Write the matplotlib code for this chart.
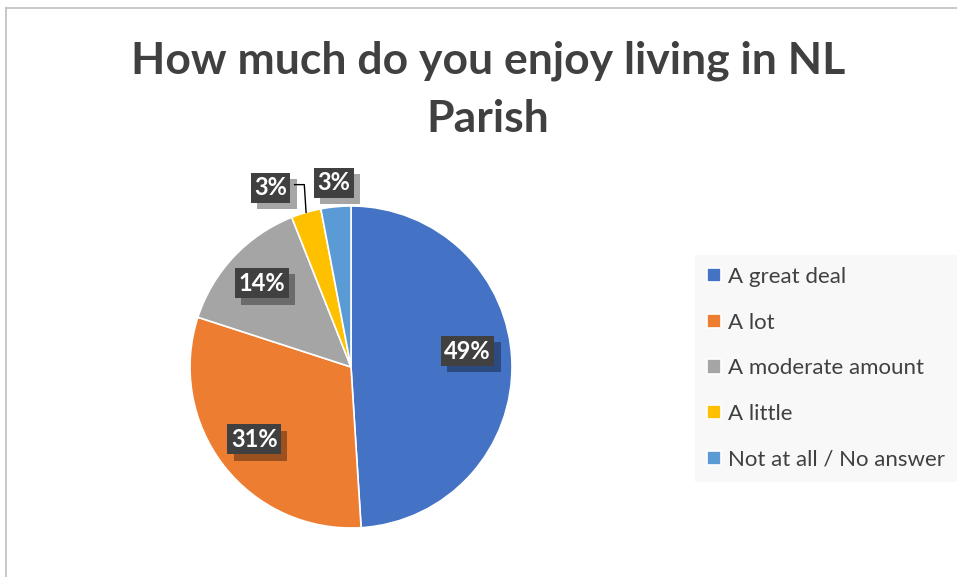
#Pie chart: How much do you enjoy living in NL Parish

import numpy as np
import matplotlib.pyplot as plt
from matplotlib.lines import Line2D
import matplotlib.patheffects as pe

#Data
categories = ["A great deal", "A lot", "A moderate amount", "A little", "Not at all / No answer"]
values = [49, 31, 14, 3, 3]
labels = ["49%", "31%", "14%", "3%", "3%"]
colors = ["#4472c4", "#ed7d31", "#a5a5a5", "#ffc000", "#5b9bd5"]

#Label placement (radius, angle shift in degrees) relative to wedge middle
label_r = [0.73, 0.75, 0.76, 1.22, 1.15]
label_shift = [6, -1, 0, 8, 0]

plt.rcParams['font.family'] = ['Lato', 'DejaVu Sans']

W, H = 957, 577
fig = plt.figure(figsize=(W/100, H/100), dpi=100)

#Outer chart border (only top and left visible)
fig.add_artist(Line2D([6/W, 6/W], [0, 1 - 8/H], color="#bfbfbf", lw=1.2))
fig.add_artist(Line2D([6/W, 1], [1 - 8/H, 1 - 8/H], color="#bfbfbf", lw=1.2))

#Title
fig.text(488/W, 1 - 61/H, "How much do you enjoy living in NL", ha='center', va='center',
         fontsize=32, fontweight='bold', color="#404040")
fig.text(488/W, 1 - 119/H, "Parish", ha='center', va='center',
         fontsize=32, fontweight='bold', color="#404040")

#Pie axes: radius 161 px, centre at (351, 367)
R = 161
cx, cy = 351, 367
half = 200
ax = fig.add_axes([(cx - half)/W, (H - cy - half)/H, 2*half/W, 2*half/H])
wedges, _ = ax.pie(values, colors=colors, startangle=90, counterclock=False,
                   radius=1, wedgeprops=dict(edgecolor='white', linewidth=1.2))
ax.set_xlim(-half/R, half/R)
ax.set_ylim(-half/R, half/R)
ax.set_aspect('equal')
ax.axis('off')

#Data labels in dark boxes with a drop shadow
for w, lab, r, s in zip(wedges, labels, label_r, label_shift):
    mid = np.deg2rad((w.theta1 + w.theta2)/2 + s)
    x, y = r*np.cos(mid), r*np.sin(mid)
    t = ax.text(x, y, lab, ha='center', va='center', fontsize=17, fontweight='bold',
                color='white', bbox=dict(boxstyle='square,pad=0.15', fc="#404040", ec='none'))
    t.get_bbox_patch().set_path_effects([
        pe.SimplePatchShadow(offset=(4.5, -4.5), shadow_rgbFace='black', alpha=0.35),
        pe.Normal()])

#Leader line for the "A little" label
w = wedges[3]
mid = np.deg2rad((w.theta1 + w.theta2)/2)
ex, ey = np.cos(mid), np.sin(mid)
lx = np.cos(np.deg2rad((w.theta1 + w.theta2)/2 + label_shift[3]))*label_r[3]
ly = np.sin(np.deg2rad((w.theta1 + w.theta2)/2 + label_shift[3]))*label_r[3]
ax.plot([lx + 0.15, lx + 0.21, ex], [ly + 0.02, ly + 0.02, ey], color='black', lw=1)

#Legend
leg = fig.legend(wedges, categories, loc='upper left', bbox_to_anchor=(695/W, 1 - 255/H),
                 frameon=True, fancybox=False, fontsize=16, labelcolor="#404040",
                 handlelength=0.6, handleheight=0.6, handletextpad=0.35,
                 labelspacing=1.15, borderpad=0.55, borderaxespad=0)
leg.get_frame().set_facecolor("#f7f7f7")
leg.get_frame().set_edgecolor("none")

plt.savefig("out.png", dpi=100)
